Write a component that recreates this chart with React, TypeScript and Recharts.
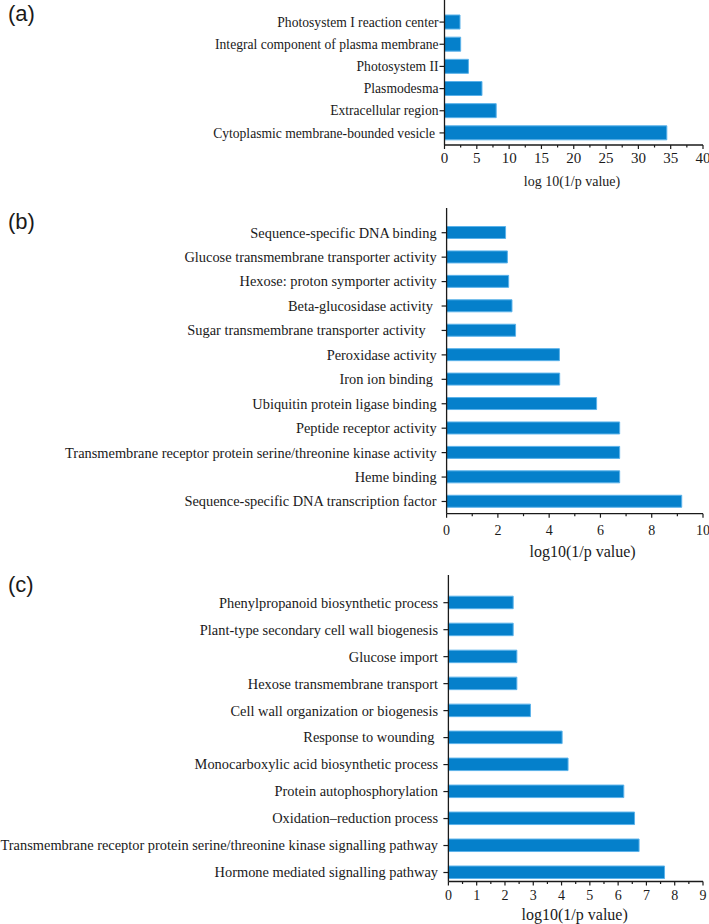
import React from "react";
import { BarChart, Bar, XAxis, YAxis } from "recharts";

// (a) cellular component terms, top to bottom
const ccTerms = [
  "Photosystem I reaction center",
  "Integral component of plasma membrane",
  "Photosystem II",
  "Plasmodesma",
  "Extracellular region",
  "Cytoplasmic membrane-bounded vesicle ",
];
const ccValues = [2.4, 2.5, 3.7, 5.8, 8.0, 34.4];
const ccTicks = [0, 2.5, 5, 7.5, 10, 12.5, 15, 17.5, 20, 22.5, 25, 27.5, 30, 32.5, 35, 37.5, 40];

// (b) molecular function terms
const mfTerms = [
  "Sequence-specific DNA binding",
  "Glucose transmembrane transporter activity",
  "Hexose: proton symporter activity",
  "Beta-glucosidase activity ",
  "Sugar transmembrane transporter activity   ",
  "Peroxidase activity",
  "Iron ion binding ",
  "Ubiquitin protein ligase binding",
  "Peptide receptor activity",
  "Transmembrane receptor protein serine/threonine kinase activity",
  "Heme binding",
  "Sequence-specific DNA transcription factor",
];
const mfValues = [2.3, 2.37, 2.42, 2.55, 2.69, 4.4, 4.41, 5.85, 6.75, 6.75, 6.75, 9.17];
const mfTicks = [0, 1, 2, 3, 4, 5, 6, 7, 8, 9, 10];

// (c) biological process terms
const bpTerms = [
  "Phenylpropanoid biosynthetic process",
  "Plant-type secondary cell wall biogenesis",
  "Glucose import",
  "Hexose transmembrane transport",
  "Cell wall organization or biogenesis",
  "Response to wounding ",
  "Monocarboxylic acid biosynthetic process",
  "Protein autophosphorylation",
  "Oxidation\u2013reduction process",
  "Transmembrane receptor protein serine/threonine kinase signalling pathway",
  "Hormone mediated signalling pathway",
];
const bpValues = [2.29, 2.29, 2.42, 2.42, 2.9, 4.02, 4.23, 6.2, 6.58, 6.74, 7.64];
const bpTicks = [0, 0.5, 1, 1.5, 2, 2.5, 3, 3.5, 4, 4.5, 5, 5.5, 6, 6.5, 7, 7.5, 8, 8.5, 9];

const W = 709;
const H = 924;
const INK = "#1a1a1a";
const SERIF = "'Liberation Serif', 'Times New Roman', serif";

type PanelProps = {
  terms: string[];
  values: number[];
  ticks: number[];
  max: number;
  major: number;
  plotTop: number;
  plotBottom: number;
  plotLeft: number;
  padTop: number;
  padBottom: number;
  barSize: number;
  labelGap: number;
  labelFont: number;
  tickDy: number;
  tickFont: number;
};

function Panel(p: PanelProps) {
  const data = p.terms.map((name, i) => ({ name, v: p.values[i] }));
  return (
    <div style={{ position: "absolute", left: 0, top: 0 }}>
      <BarChart
        width={W}
        height={H}
        data={data}
        layout="vertical"
        margin={{ top: p.plotTop, right: 6, bottom: H - p.plotBottom - 30, left: 0 }}
      >
        <XAxis
          type="number"
          domain={[0, p.max]}
          ticks={p.ticks}
          interval={0}
          height={30}
          tickSize={0}
          tickMargin={0}
          tickLine={false}
          axisLine={{ stroke: INK, strokeWidth: 1.3 }}
          tick={(t: any) => {
            const isMajor = Math.abs(t.payload.value / p.major - Math.round(t.payload.value / p.major)) < 1e-6;
            return (
              <g key={`x-${t.index}`}>
                <line x1={t.x} x2={t.x} y1={t.y} y2={t.y + (isMajor ? 4 : 2.5)} stroke={INK} strokeWidth={1.2} />
                {isMajor && (
                  <text x={t.x} y={t.y + p.tickDy} textAnchor="middle" fontFamily={SERIF} fontSize={p.tickFont} fill={INK}>
                    {t.payload.value}
                  </text>
                )}
              </g>
            );
          }}
        />
        <YAxis
          type="category"
          dataKey="name"
          width={p.plotLeft}
          interval={0}
          padding={{ top: p.padTop, bottom: p.padBottom }}
          tickSize={0}
          tickMargin={0}
          tickLine={false}
          axisLine={{ stroke: INK, strokeWidth: 1.3 }}
          tick={(t: any) => (
            <g key={`y-${t.index}`}>
              <line x1={t.x - 5} x2={t.x} y1={t.y} y2={t.y} stroke={INK} strokeWidth={1.2} />
              <text
                x={t.x - p.labelGap}
                y={t.y}
                dy="0.34em"
                textAnchor="end"
                xmlSpace="preserve"
                style={{ whiteSpace: "pre" }}
                fontFamily={SERIF}
                fontSize={p.labelFont}
                fill={INK}
              >
                {t.payload.value}
              </text>
            </g>
          )}
        />
        <Bar dataKey="v" barSize={p.barSize} fill="#0580CB" stroke="#5BB2EA" strokeWidth={1} isAnimationActive={false} />
      </BarChart>
    </div>
  );
}

export default function App() {
  return (
    <div style={{ position: "fixed", left: 0, top: 0, width: W, height: H, background: "#fff" }}>
      <Panel
        terms={ccTerms}
        values={ccValues}
        ticks={ccTicks}
        max={40}
        major={5}
        plotTop={0}
        plotBottom={145}
        plotLeft={444.5}
        padTop={11}
        padBottom={1}
        barSize={14}
        labelGap={6}
        labelFont={13.6}
        tickDy={18}
        tickFont={15}
      />
      <Panel
        terms={mfTerms}
        values={mfValues}
        ticks={mfTicks}
        max={10}
        major={2}
        plotTop={208}
        plotBottom={513.7}
        plotLeft={446.6}
        padTop={12.5}
        padBottom={0}
        barSize={12}
        labelGap={10}
        labelFont={14.4}
        tickDy={21.5}
        tickFont={14}
      />
      <Panel
        terms={bpTerms}
        values={bpValues}
        ticks={bpTicks}
        max={9}
        major={1}
        plotTop={575}
        plotBottom={881.5}
        plotLeft={448.4}
        padTop={14.2}
        padBottom={-4.5}
        barSize={12.5}
        labelGap={10.4}
        labelFont={14.4}
        tickDy={18.5}
        tickFont={14}
      />
      <svg width={W} height={H} style={{ position: "absolute", left: 0, top: 0, pointerEvents: "none" }}>
        <g fontFamily="'Liberation Sans', Arial, sans-serif" fontSize={22} fill={INK}>
          <text x={8} y={21}>(a)</text>
          <text x={8} y={229}>(b)</text>
          <text x={8} y={592}>(c)</text>
        </g>
        <g fontFamily={SERIF} fill={INK} textAnchor="middle">
          <text x={572} y={186} fontSize={14}>log 10(1/p value)</text>
          <text x={582.6} y={557} fontSize={16}>log10(1/p value)</text>
          <text x={574.7} y={920} fontSize={16}>log10(1/p value)</text>
        </g>
      </svg>
    </div>
  );
}
